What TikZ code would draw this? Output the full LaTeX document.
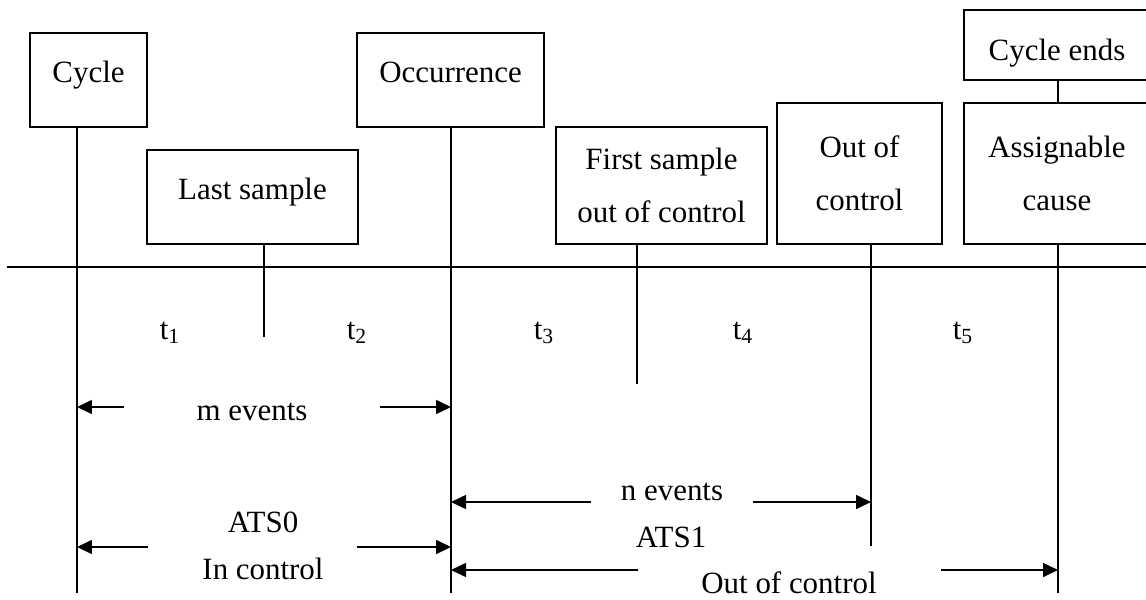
\documentclass[tikz,border=0pt]{standalone}
\usepackage{fontspec}
\setmainfont{Liberation Serif}
\usetikzlibrary{
    positioning,
    arrows.meta     % For the triangle arrow tips
}

\begin{document}
\begin{tikzpicture}[
    x=0.02cm, y=-0.02cm,
    box/.style={rectangle, draw, line width=0.9pt, inner sep=0pt, align=center, font=\fontsize{17.6}{30}\selectfont},
    onebox/.style={box, text height=0.45cm, text depth=0.35cm},
    lbl/.style={anchor=base, inner sep=0pt, font=\fontsize{17.6}{21}\selectfont},
    line/.style={line width=0.9pt},
    arrow/.style={line width=0.9pt, -{Triangle[length=0.3cm, width=0.28cm]}}
]
    \useasboundingbox (0,0) rectangle (1146,599);

    % Event boxes
    \node[onebox, minimum width=2.34cm, minimum height=1.88cm] (cycle) at (88.5,80) {Cycle};
    \node[onebox, minimum width=4.22cm, minimum height=1.88cm] (lastsample) at (252.5,197) {Last sample};
    \node[onebox, minimum width=3.74cm, minimum height=1.88cm] (occurrence) at (450.5,80) {Occurrence};
    \node[box, minimum width=4.22cm, minimum height=2.34cm] (firstsample) at (661.5,185.5) {First sample\\out of control};
    \node[box, minimum width=3.3cm, minimum height=2.82cm] (outctrl) at (859.5,173.5) {Out of\\control};
    \node[box, minimum width=3.72cm, minimum height=2.82cm] (assignable) at (1057,173.5) {Assignable\\cause};
    \node[box, text height=0.6cm, text depth=0cm, minimum width=3.72cm, minimum height=1.4cm] (cycleends) at (1057,45) {Cycle ends};

    % Ends of the event lines
    \coordinate (cycleB) at (77,593);
    \coordinate (lastB) at (264,337);
    \coordinate (occB) at (451,593);
    \coordinate (firstB) at (637,384);
    \coordinate (outB) at (871,546);
    \coordinate (assignB) at (1058,593);

    % Time axis
    \coordinate (axisL) at (7,267);
    \coordinate (axisR) at (1150,267);
    \draw[line] (axisL) -- (axisR);

    % Event lines
    \draw[line] (cycle.south -| cycleB) -- (cycleB);
    \draw[line] (lastsample.south -| lastB) -- (lastB);
    \draw[line] (occurrence.south -| occB) -- (occB);
    \draw[line] (firstsample.south -| firstB) -- (firstB);
    \draw[line] (outctrl.south -| outB) -- (outB);
    \draw[line] (assignable.south -| assignB) -- (assignB);
    \draw[line] (cycleends.south -| assignB) -- (assignable.north -| assignB);

    % Intervals
    \node[lbl] (t1) at (170,339) {t\textsubscript{1}};
    \node[lbl] (t2) at (357,339) {t\textsubscript{2}};
    \node[lbl] (t3) at (544,339) {t\textsubscript{3}};
    \node[lbl] (t4) at (743,339) {t\textsubscript{4}};
    \node[lbl] (t5) at (963,339) {t\textsubscript{5}};

    % m events
    \node[lbl] (mev) at (252,420) {m events};
    \coordinate (mL) at (124,407);
    \coordinate (mR) at (380,407);
    \draw[arrow] (mL) -- (mL -| cycleB);
    \draw[arrow] (mR) -- (mR -| occB);

    % ATS0, in control
    \node[lbl] (ats0) at (263,532) {ATS0};
    \node[lbl] (inctrl) at (263,579) {In control};
    \coordinate (aL) at (148,547);
    \coordinate (aR) at (357,547);
    \draw[arrow] (aL) -- (aL -| cycleB);
    \draw[arrow] (aR) -- (aR -| occB);

    % n events
    \node[lbl] (nev) at (672,500) {n events};
    \coordinate (nL) at (591,502);
    \coordinate (nR) at (753,502);
    \draw[arrow] (nL) -- (nL -| occB);
    \draw[arrow] (nR) -- (nR -| outB);

    % ATS1, out of control
    \node[lbl] (ats1) at (671,547) {ATS1};
    \node[lbl] (outlbl) at (789,593) {Out of control};
    \coordinate (oL) at (638,570);
    \coordinate (oR) at (941,570);
    \draw[arrow] (oL) -- (oL -| occB);
    \draw[arrow] (oR) -- (oR -| assignB);

\end{tikzpicture}
\end{document}
